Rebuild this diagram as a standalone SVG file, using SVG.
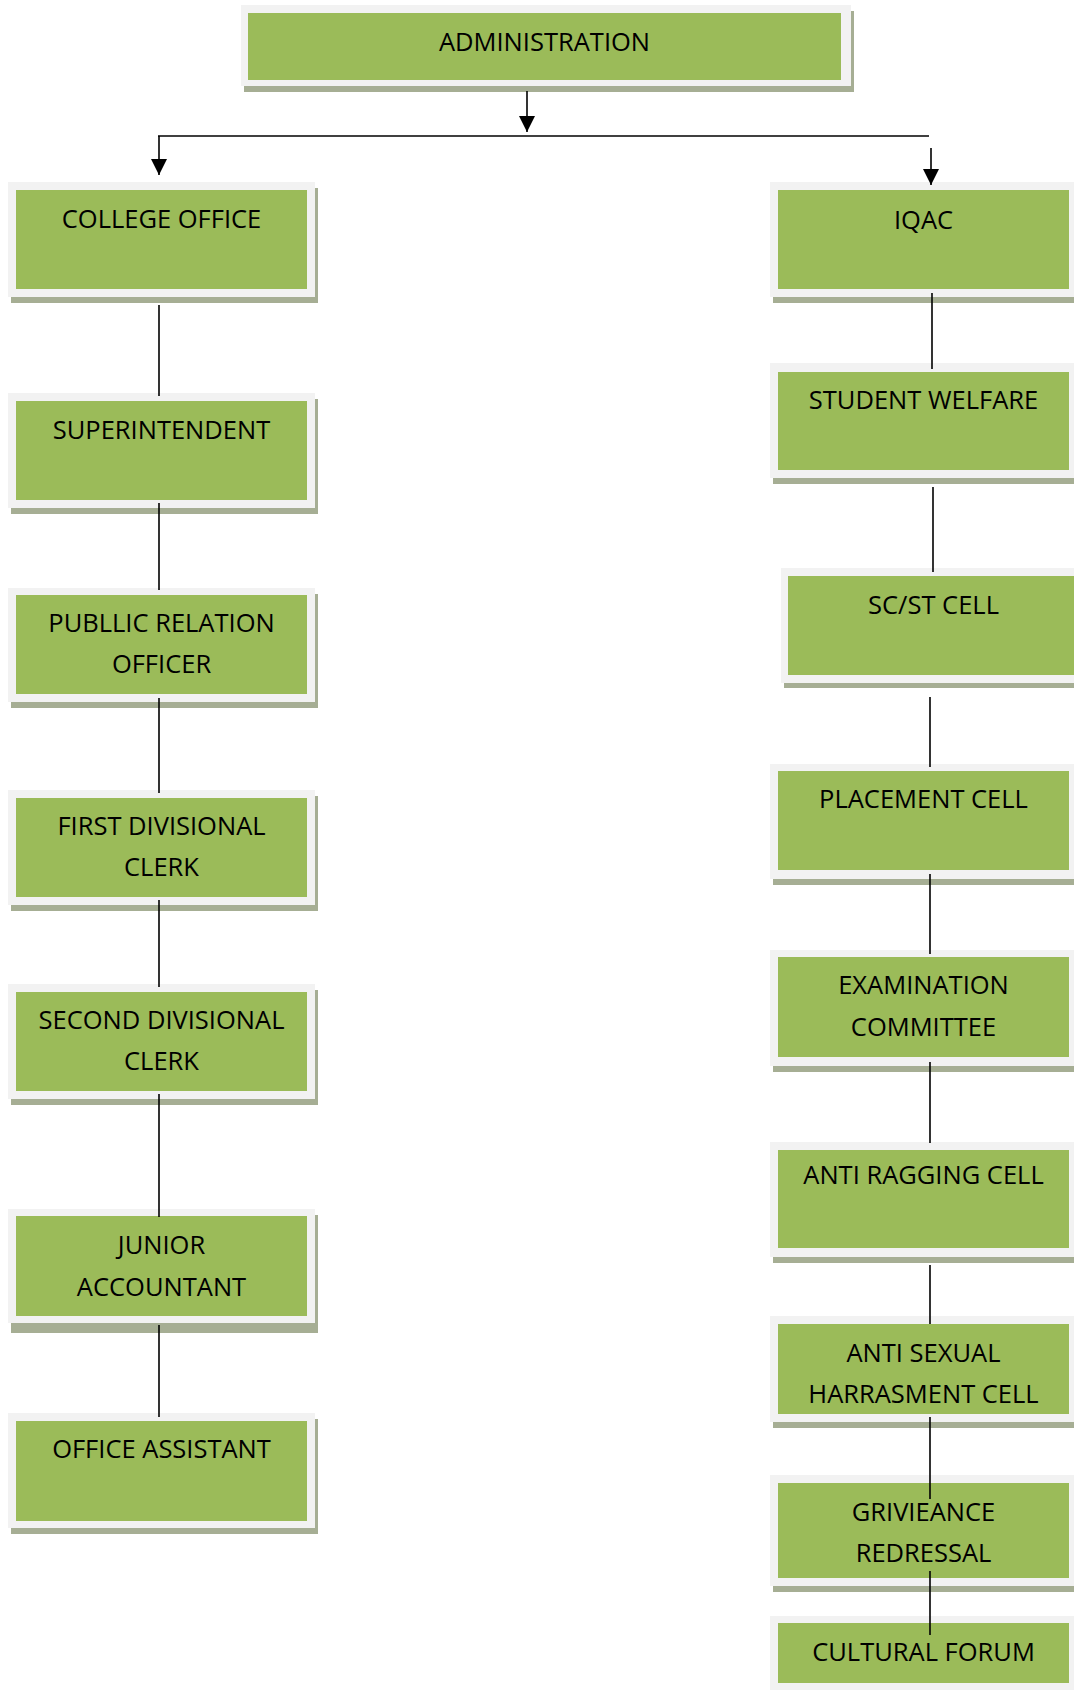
<svg xmlns="http://www.w3.org/2000/svg" width="1074" height="1690" viewBox="0 0 1074 1690">
<defs>
<marker id="ah" markerUnits="userSpaceOnUse" markerWidth="16" markerHeight="16" refX="16" refY="8" orient="auto">
<path d="M0,0 L16,8 L0,16 Z" fill="#000"/>
</marker>
</defs>
<style>
.sh{fill:#a6ae94}
.fr{fill:#f2f2f2}
.gr{fill:#9bbb59}
.t{font-family:"Open Sans","Liberation Sans",sans-serif;font-size:25.5px;fill:#000;text-anchor:middle}
.c{stroke:#000;stroke-width:1.6;fill:none}
</style>
<rect width="1074" height="1690" fill="#fff"/>

<g id="administration">
<rect class="sh" x="244" y="11" width="610" height="81"/>
<rect class="fr" x="241" y="5" width="610" height="81"/>
<rect class="gr" x="248" y="13" width="593" height="67"/>
<text class="t" x="544.5" y="50.5">ADMINISTRATION</text>
</g>

<g id="college-office">
<rect class="sh" x="11" y="188" width="307" height="115"/>
<rect class="fr" x="8" y="182" width="307" height="115"/>
<rect class="gr" x="16" y="190" width="291" height="99"/>
<text class="t" x="161.5" y="228">COLLEGE OFFICE</text>
</g>
<g id="superintendent">
<rect class="sh" x="11" y="399" width="307" height="115"/>
<rect class="fr" x="8" y="393" width="307" height="115"/>
<rect class="gr" x="16" y="401" width="291" height="99"/>
<text class="t" x="161.5" y="439">SUPERINTENDENT</text>
</g>
<g id="public-relation-officer">
<rect class="sh" x="11" y="594" width="307" height="114"/>
<rect class="fr" x="8" y="588" width="307" height="114"/>
<rect class="gr" x="16" y="595" width="291" height="99"/>
<text class="t" x="161.5" y="631.5">PUBLLIC RELATION</text>
<text class="t" x="161.5" y="673">OFFICER</text>
</g>
<g id="first-divisional-clerk">
<rect class="sh" x="11" y="796" width="307" height="115"/>
<rect class="fr" x="8" y="790" width="307" height="115"/>
<rect class="gr" x="16" y="798" width="291" height="99"/>
<text class="t" x="161.5" y="834.5">FIRST DIVISIONAL</text>
<text class="t" x="161.5" y="876">CLERK</text>
</g>
<g id="second-divisional-clerk">
<rect class="sh" x="11" y="990" width="307" height="115"/>
<rect class="fr" x="8" y="984" width="307" height="115"/>
<rect class="gr" x="16" y="992" width="291" height="99"/>
<text class="t" x="161.5" y="1028.5">SECOND DIVISIONAL</text>
<text class="t" x="161.5" y="1070">CLERK</text>
</g>
<g id="junior-accountant">
<rect class="sh" x="11" y="1215" width="307" height="118"/>
<rect class="fr" x="8" y="1209" width="307" height="114"/>
<rect class="gr" x="16" y="1216" width="291" height="100"/>
<text class="t" x="161.5" y="1254">JUNIOR</text>
<text class="t" x="161.5" y="1295.5">ACCOUNTANT</text>
</g>
<g id="office-assistant">
<rect class="sh" x="11" y="1419" width="307" height="115"/>
<rect class="fr" x="8" y="1413" width="307" height="115"/>
<rect class="gr" x="16" y="1421" width="291" height="100"/>
<text class="t" x="161.5" y="1458">OFFICE ASSISTANT</text>
</g>

<g id="iqac">
<rect class="sh" x="773" y="188" width="307" height="115"/>
<rect class="fr" x="770" y="182" width="307" height="115"/>
<rect class="gr" x="778" y="190" width="291" height="99"/>
<text class="t" x="923.5" y="229">IQAC</text>
</g>
<g id="student-welfare">
<rect class="sh" x="773" y="369" width="307" height="115"/>
<rect class="fr" x="770" y="363" width="307" height="115"/>
<rect class="gr" x="778" y="372" width="291" height="98"/>
<text class="t" x="923.5" y="409">STUDENT WELFARE</text>
</g>
<g id="sc-st-cell">
<rect class="sh" x="784" y="573" width="307" height="115"/>
<rect class="fr" x="781" y="568" width="307" height="115"/>
<rect class="gr" x="788" y="576" width="291" height="99"/>
<text class="t" x="933.5" y="614">SC/ST CELL</text>
</g>
<g id="placement-cell">
<rect class="sh" x="773" y="770" width="307" height="115"/>
<rect class="fr" x="770" y="764" width="307" height="115"/>
<rect class="gr" x="778" y="771" width="291" height="99"/>
<text class="t" x="923.5" y="808">PLACEMENT CELL</text>
</g>
<g id="examination-committee">
<rect class="sh" x="773" y="956" width="307" height="116"/>
<rect class="fr" x="770" y="950" width="307" height="116"/>
<rect class="gr" x="778" y="957" width="291" height="100"/>
<text class="t" x="923.5" y="993.5">EXAMINATION</text>
<text class="t" x="923.5" y="1035.5">COMMITTEE</text>
</g>
<g id="anti-ragging-cell">
<rect class="sh" x="773" y="1148" width="307" height="115"/>
<rect class="fr" x="770" y="1142" width="307" height="115"/>
<rect class="gr" x="778" y="1150" width="291" height="98"/>
<text class="t" x="923.5" y="1184">ANTI RAGGING CELL</text>
</g>
<g id="anti-sexual-harrasment-cell">
<rect class="sh" x="773" y="1322" width="307" height="106"/>
<rect class="fr" x="770" y="1316" width="307" height="106"/>
<rect class="gr" x="778" y="1324" width="291" height="90"/>
<text class="t" x="923.5" y="1362">ANTI SEXUAL</text>
<text class="t" x="923.5" y="1403">HARRASMENT CELL</text>
</g>
<g id="grivieance-redressal">
<rect class="sh" x="773" y="1481" width="307" height="111"/>
<rect class="fr" x="770" y="1475" width="307" height="111"/>
<rect class="gr" x="778" y="1483" width="291" height="95"/>
<text class="t" x="923.5" y="1521">GRIVIEANCE</text>
<text class="t" x="923.5" y="1562">REDRESSAL</text>
</g>
<g id="cultural-forum">
<rect class="fr" x="770" y="1616" width="307" height="80"/>
<rect class="gr" x="778" y="1623" width="291" height="60"/>
<text class="t" x="923.5" y="1661">CULTURAL FORUM</text>
</g>

<g id="connectors">
<line class="c" x1="527" y1="91" x2="527" y2="132" marker-end="url(#ah)"/>
<line class="c" x1="158" y1="136" x2="929" y2="136"/>
<line class="c" x1="159" y1="136" x2="159" y2="175" marker-end="url(#ah)"/>
<line class="c" x1="931" y1="148" x2="931" y2="185" marker-end="url(#ah)"/>

<line class="c" x1="159" y1="305" x2="159" y2="396"/>
<line class="c" x1="159" y1="503" x2="159" y2="590"/>
<line class="c" x1="159" y1="698" x2="159" y2="793"/>
<line class="c" x1="159" y1="900" x2="159" y2="987"/>
<line class="c" x1="159" y1="1094" x2="159" y2="1217"/>
<line class="c" x1="159" y1="1325" x2="159" y2="1417"/>

<line class="c" x1="932" y1="293" x2="932" y2="369"/>
<line class="c" x1="933" y1="487" x2="933" y2="572"/>
<line class="c" x1="930" y1="697" x2="930" y2="767"/>
<line class="c" x1="930" y1="874" x2="930" y2="954"/>
<line class="c" x1="930" y1="1062" x2="930" y2="1143"/>
<line class="c" x1="930" y1="1265" x2="930" y2="1324"/>
<line class="c" x1="930" y1="1417" x2="930" y2="1499"/>
<line class="c" x1="930" y1="1571" x2="930" y2="1635"/>
</g>
</svg>
